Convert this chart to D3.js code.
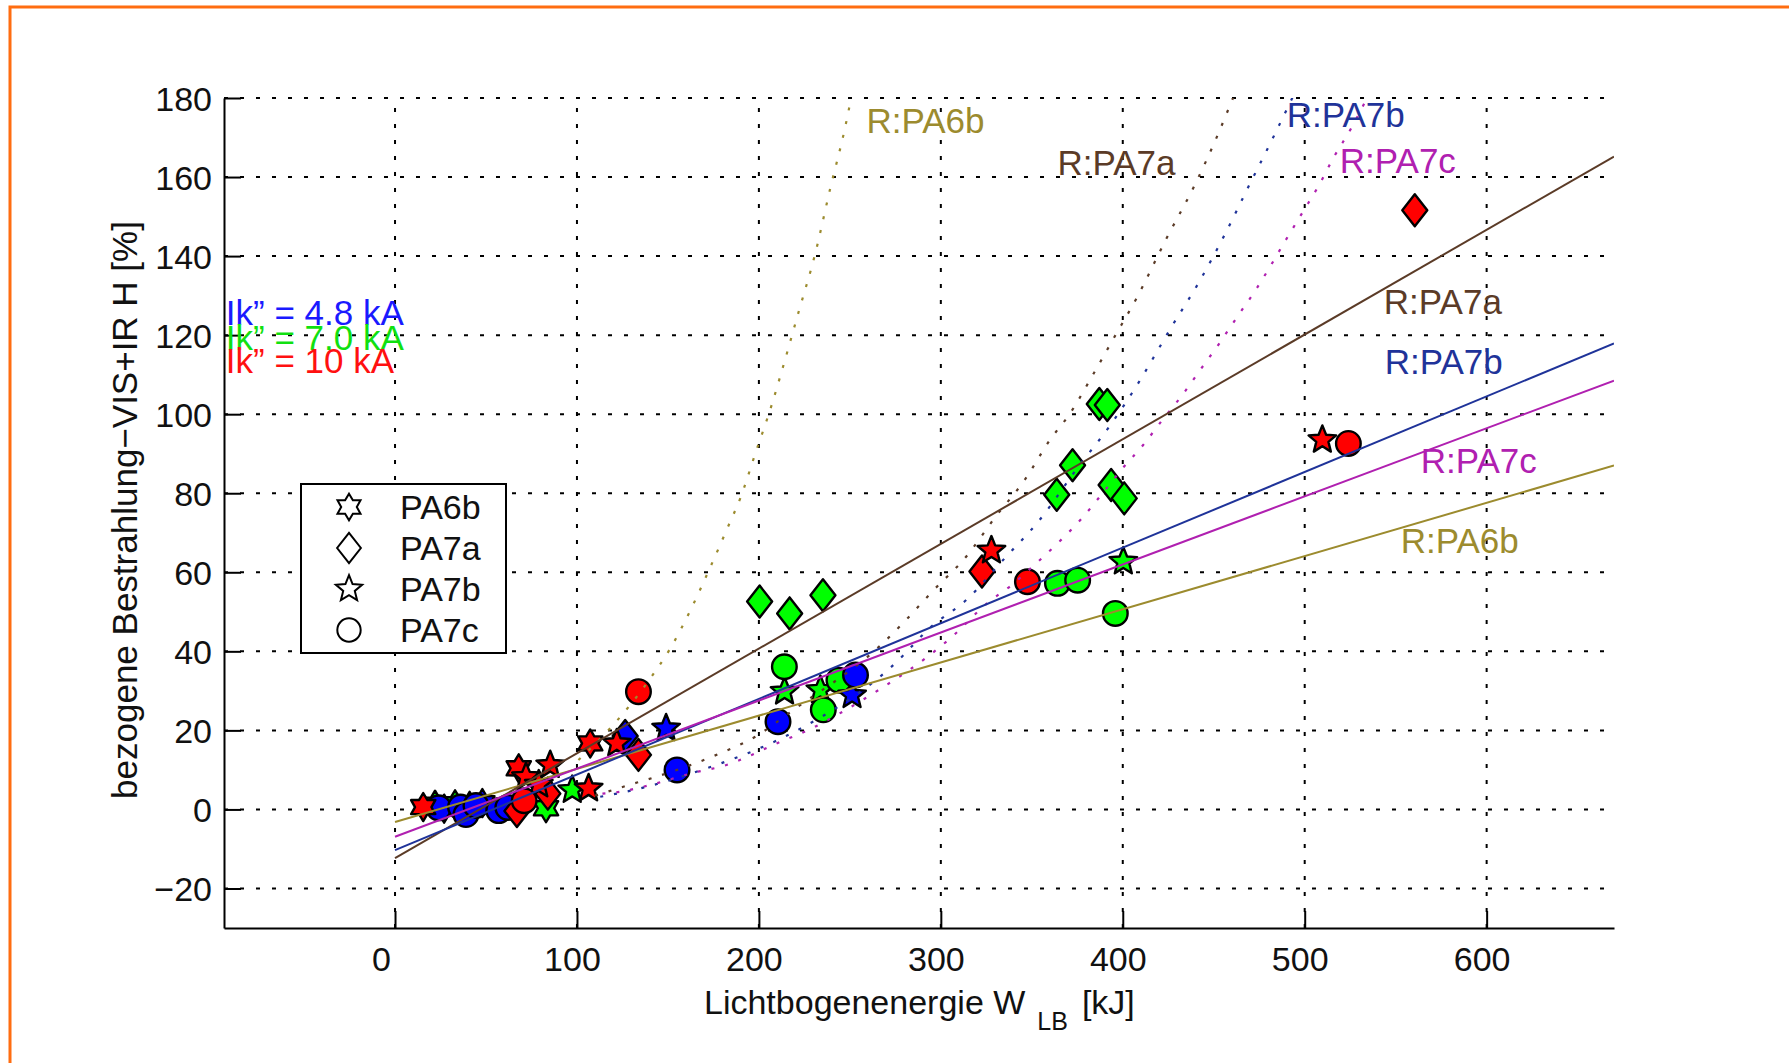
<!DOCTYPE html>
<html>
<head>
<meta charset="utf-8">
<script src="https://cdn.jsdelivr.net/npm/d3@7"></script>
<style>
    body { margin: 0; background: #fff; }
    text { font-family: "Liberation Sans", Arial, sans-serif; }
</style>
</head>
<body>
<div id="graphic"></div>
<script>
// Werkstoffe und Kurzschlussstroeme
var materials = ['PA6b', 'PA7a', 'PA7b', 'PA7c'];
var currentLabels = ['Ik\u201D = 4.8 kA', 'Ik\u201D = 7.0 kA', 'Ik\u201D = 10 kA'];

// Messpunkte: [W_LB in kJ, bezogene Bestrahlung in %, Strom-Index]
var pa6bPoints = [
    [15.5, 0.6, 2], [22, 1.2, 1], [27, 0.2, 0], [33, 1.3, 1], [41, 0.9, 0],
    [48, 1.6, 0], [83, 0.3, 1], [68, 10.4, 2], [107.3, 16.7, 2]
];
var pa7aPoints = [
    [200.4, 52.6, 1], [216.9, 49.6, 1], [235.2, 54.2, 1], [363.7, 79.6, 1], [372.4, 87.1, 1],
    [387.1, 102.6, 1], [391.5, 102.3, 1], [393.6, 82.1, 1], [400.8, 78.7, 1],
    [126.5, 18.6, 0],
    [67, -0.4, 2], [84, 4, 2], [133.8, 13.8, 2], [322.6, 60.2, 2], [560.5, 151.6, 2]
];
var pa7bPoints = [
    [149, 20.5, 0], [251.2, 28.9, 0],
    [97.4, 4.9, 1], [214.1, 29.8, 1], [233.8, 30.2, 1], [400.3, 62.7, 1],
    [72, 8.2, 2], [79, 6.3, 2], [85.3, 11.2, 2], [106.4, 5.3, 2], [121.9, 16.7, 2],
    [327.8, 65.5, 2], [509.7, 93.5, 2]
];
var pa7cPoints = [
    [24, 0.4, 0], [36, 0.6, 0], [39, -1.3, 0], [44.5, 1.0, 0], [57, -0.3, 0], [62, 0.5, 0],
    [155, 10, 0], [210.5, 22.2, 0], [253.1, 34.0, 0],
    [214, 36.1, 1], [235.4, 25.2, 1], [244, 32.7, 1], [364.1, 57.2, 1], [375.2, 58.0, 1], [395.9, 49.6, 1],
    [71, 2.2, 2], [133.8, 29.8, 2], [347.6, 57.6, 2], [524, 92.6, 2]
];

// Regressionsgeraden (Anfang, Ende)
var fitPA6b = [[0, -3.2], [670, 87.0]];
var fitPA7a = [[0, -12.3], [670, 165.2]];
var fitPA7b = [[0, -10.3], [670, 117.9]];
var fitPA7c = [[0, -6.9], [670, 108.5]];

// gepunktete Kurven
var curvePA6b = [[100.8, 12.5], [120, 21.4], [141, 33.6], [151, 40.5], [163, 51], [173, 61], [183, 71.5],
    [190, 79], [198, 90], [207, 102.3], [212, 110], [221.6, 125.5], [231, 140.7], [239, 156.7],
    [247.5, 172.8], [250.7, 180]];
var curvePA7a = [[110, 3.5], [133, 6.8], [141, 7.9], [174, 13.3], [198, 18.4], [219, 25.2], [268, 42],
    [281, 48], [295, 55], [314, 64], [330, 74], [346, 83.3], [360, 93.5], [371, 100.2], [384, 110.3],
    [395, 119.2], [408, 129.7], [423.5, 144], [440, 158.4], [451, 169.4], [461, 180.5]];
var curvePA7b = [[112.8, 3.2], [131, 4.9], [175, 11], [198, 15], [223, 20.5], [275, 37], [294.6, 46.2],
    [314, 53], [335, 63.5], [353.5, 72.8], [377, 87.6], [390.6, 95.6], [405, 105.3], [428, 123],
    [442, 133.5], [455, 144.5], [470, 158.4], [482, 169.4], [494, 180.8]];
var curvePA7c = [[114, 4], [124, 4.5], [140.3, 6.2], [166, 9.5], [179, 10.8], [211.8, 17.1], [229, 20.5],
    [244.4, 24.3], [265.7, 30.2], [292.6, 38.6], [306.2, 43.7], [325.5, 52.2], [339, 56.8], [352.5, 62.3],
    [365, 67.7], [377.6, 73.7], [389.6, 80.4], [400.6, 86.7], [411.2, 92.2], [421.7, 98.5], [432.8, 104.9],
    [442.9, 111.4], [453.5, 118.2], [463, 124.7], [473, 131.4], [480.4, 136.9], [489.5, 144], [499, 151.2],
    [507.9, 158], [516.2, 165.2], [525.5, 172.3], [533.7, 179.5]];

var xTicks = [0, 100, 200, 300, 400, 500, 600];
var yTicks = [-20, 0, 20, 40, 60, 80, 100, 120, 140, 160, 180];

var pointSets = [pa6bPoints, pa7aPoints, pa7bPoints, pa7cPoints];
var fitSets = [fitPA6b, fitPA7a, fitPA7b, fitPA7c];
var curveSets = [curvePA6b, curvePA7a, curvePA7b, curvePA7c];

// Farben
var currentColors = ['#0000ff', '#00ff00', '#ff0000'];
var currentTextColors = ['#1a1aff', '#10e010', '#ff1010'];
var materialColors = ['#9c8b2e', '#5b3b27', '#1f3399', '#b020b0'];

// Beschriftungen der Kurven (Datenkoordinaten)
var lineLabels = [
    {m: 0, x: 259.1, y: 171.2}, {m: 0, x: 552.8, y: 64.9},
    {m: 1, x: 364.1, y: 160.5}, {m: 1, x: 543.5, y: 125.4},
    {m: 2, x: 490.1, y: 172.7}, {m: 2, x: 544, y: 110.2},
    {m: 3, x: 519.3, y: 161.0}, {m: 3, x: 563.8, y: 85.1}
];
var currentTextPos = {x: -93, y: [122.6, 116.3, 110.5]};

var W = 1789, H = 1063;
var fs = 34, fsLabel = 35;

var svg = d3.select('#graphic')
    .append('svg')
    .attr('width', W)
    .attr('height', H);

// oranger Rahmen
svg.append('path')
    .attr('d', 'M10,' + (H + 5) + 'V7H' + (W + 5))
    .attr('fill', 'none')
    .attr('stroke', '#ff6d10')
    .attr('stroke-width', 3);

var xScale = d3.scaleLinear()
    .domain([-94, 670])
    .range([224, 1614]);
var yScale = d3.scaleLinear()
    .domain([-30, 180])
    .range([928, 98]);

// Gitter
svg.append('g').selectAll('line')
    .data(xTicks)
    .enter()
    .append('line')
    .attr('x1', function (d) { return xScale(d) })
    .attr('x2', function (d) { return xScale(d) })
    .attr('y1', yScale.range()[0])
    .attr('y2', yScale.range()[1])
    .attr('stroke', '#000')
    .attr('stroke-width', 2)
    .attr('stroke-dasharray', '4,12');
svg.append('g').selectAll('line')
    .data(yTicks)
    .enter()
    .append('line')
    .attr('x1', xScale.range()[0])
    .attr('x2', xScale.range()[1])
    .attr('y1', function (d) { return yScale(d) })
    .attr('y2', function (d) { return yScale(d) })
    .attr('stroke', '#000')
    .attr('stroke-width', 2)
    .attr('stroke-dasharray', '4,12');

// Achsen
var xAxis = d3.axisBottom(xScale).tickValues(xTicks).tickSize(-17).tickSizeOuter(0);
var yAxis = d3.axisLeft(yScale).tickValues(yTicks).tickSize(-17).tickSizeOuter(0);

var gx = svg.append('g')
    .attr('transform', 'translate(0,' + yScale.range()[0] + ')')
    .call(xAxis);
gx.selectAll('text')
    .attr('font-size', fs)
    .attr('fill', '#111')
    .attr('y', 43)
    .attr('dy', 0)
    .attr('dx', function (d) { return d === 0 ? -14 : -5 });

var gy = svg.append('g')
    .attr('transform', 'translate(' + xScale.range()[0] + ',0)')
    .call(yAxis);
gy.selectAll('text')
    .attr('font-size', fs)
    .attr('fill', '#111')
    .attr('x', -12)
    .attr('dy', '0.36em');

svg.selectAll('.domain, .tick line')
    .attr('stroke', '#000')
    .attr('stroke-width', 2);

// Achsenbeschriftungen
var xLabel = svg.append('text')
    .attr('x', 704)
    .attr('y', 1014)
    .attr('font-size', fs)
    .attr('fill', '#111');
xLabel.append('tspan').text('Lichtbogenenergie W');
xLabel.append('tspan').attr('dx', 12).attr('dy', 16).attr('font-size', 25).text('LB');
xLabel.append('tspan').attr('dx', 14).attr('dy', -16).text('[kJ]');

svg.append('text')
    .attr('transform', 'translate(137,510) rotate(-90)')
    .attr('text-anchor', 'middle')
    .attr('font-size', fsLabel)
    .attr('fill', '#111')
    .text('bezogene Bestrahlung\u2212VIS+IR H [%]');

// Markerformen
function starPath(n, R, r) {
    var p = d3.path();
    for (var i = 0; i < 2 * n; i++) {
        var a = -Math.PI / 2 + i * Math.PI / n;
        var rad = i % 2 === 0 ? R : r;
        if (i === 0) p.moveTo(rad * Math.cos(a), rad * Math.sin(a));
        else p.lineTo(rad * Math.cos(a), rad * Math.sin(a));
    }
    p.closePath();
    return p.toString();
}
function markerPath(m, s) {
    s = s || 1;
    if (m === 0) return starPath(6, 14 * s, 8.2 * s);
    if (m === 1) return 'M0,' + (-16 * s) + 'L' + (12.5 * s) + ',0L0,' + (16 * s) + 'L' + (-12.5 * s) + ',0Z';
    if (m === 2) return starPath(5, 14.5 * s, 6.4 * s);
    var p = d3.path();
    p.arc(0, 0, 12.3 * s, 0, 2 * Math.PI);
    p.closePath();
    return p.toString();
}

// Punkte
var allPoints = [];
pointSets.forEach(function (set, m) {
    set.forEach(function (d) {
        allPoints.push({x: d[0], y: d[1], c: d[2], m: m});
    });
});
var drawOrder = [1, 0, 2];
allPoints.sort(function (a, b) {
    return drawOrder.indexOf(a.c) - drawOrder.indexOf(b.c);
});

svg.append('g').selectAll('path')
    .data(allPoints)
    .enter()
    .append('path')
    .attr('d', function (d) { return markerPath(d.m) })
    .attr('transform', function (d) {
        return 'translate(' + xScale(d.x) + ',' + yScale(d.y) + ')'
    })
    .attr('fill', function (d) { return currentColors[d.c] })
    .attr('stroke', '#000')
    .attr('stroke-width', 2.4)
    .attr('stroke-linejoin', 'round');

// Kurven
svg.append('clipPath').attr('id', 'plotclip')
    .append('rect')
    .attr('x', 224).attr('y', 98).attr('width', 1390).attr('height', 830);

var line = d3.line()
    .x(function (d) { return xScale(d[0]) })
    .y(function (d) { return yScale(d[1]) });
var curveLine = d3.line()
    .x(function (d) { return xScale(d[0]) })
    .y(function (d) { return yScale(d[1]) })
    .curve(d3.curveMonotoneX);

var lines = svg.append('g').attr('clip-path', 'url(#plotclip)');
curveSets.forEach(function (c, m) {
    lines.append('path')
        .attr('d', curveLine(c))
        .attr('fill', 'none')
        .attr('stroke', materialColors[m])
        .attr('stroke-width', 2.2)
        .attr('stroke-dasharray', '3,11');
});
fitSets.forEach(function (f, m) {
    lines.append('path')
        .attr('d', line(f))
        .attr('fill', 'none')
        .attr('stroke', materialColors[m])
        .attr('stroke-width', 2);
});

// Kurvenbeschriftungen
svg.append('g').selectAll('text')
    .data(lineLabels)
    .enter()
    .append('text')
    .attr('x', function (d) { return xScale(d.x) })
    .attr('y', function (d) { return yScale(d.y) })
    .attr('font-size', fsLabel)
    .attr('fill', function (d) { return materialColors[d.m] })
    .text(function (d) { return 'R:' + materials[d.m] });

// Stromangaben
svg.append('g').selectAll('text')
    .data(currentLabels)
    .enter()
    .append('text')
    .attr('x', xScale(currentTextPos.x))
    .attr('y', function (d, i) { return yScale(currentTextPos.y[i]) })
    .attr('font-size', fsLabel)
    .attr('fill', function (d, i) { return currentTextColors[i] })
    .text(function (d) { return d });

// Legende
var legend = svg.append('g');
legend.append('rect')
    .attr('x', 301).attr('y', 484)
    .attr('width', 205).attr('height', 169)
    .attr('fill', '#fff')
    .attr('stroke', '#000')
    .attr('stroke-width', 2);
var entry = legend.selectAll('.entry')
    .data(materials)
    .enter()
    .append('g')
    .attr('class', 'entry')
    .attr('transform', function (d, i) { return 'translate(0,' + (507 + i * 41) + ')' });
entry.append('path')
    .attr('d', function (d, i) { return markerPath(i, 0.95) })
    .attr('transform', 'translate(349,0)')
    .attr('fill', 'none')
    .attr('stroke', '#000')
    .attr('stroke-width', 2);
entry.append('text')
    .attr('x', 400)
    .attr('y', 12)
    .attr('font-size', fs)
    .attr('fill', '#111')
    .text(function (d) { return d });
</script>
</body>
</html>
